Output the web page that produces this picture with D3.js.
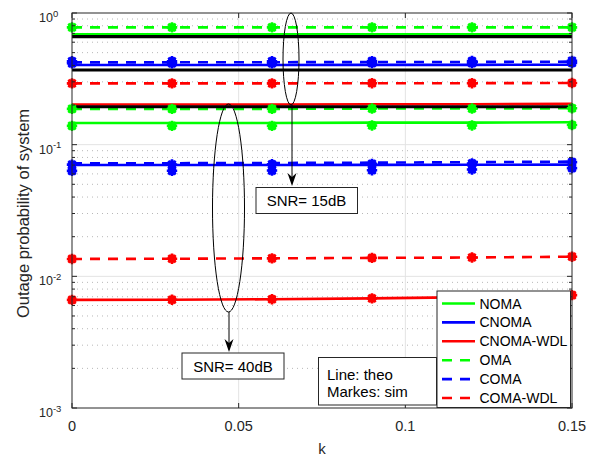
<!DOCTYPE html>
<html>
<head>
<meta charset="utf-8">
<script src="https://cdn.jsdelivr.net/npm/d3@7"></script>
<style>
  html, body { margin: 0; padding: 0; background: #fff; }
  svg { display: block; font-family: "Liberation Sans", Arial, Helvetica, sans-serif; }
</style>
</head>
<body>
<svg id="chart" width="599" height="457"></svg>
<script>
// ---------------- data ----------------
const kValues = [0, 0.03, 0.06, 0.09, 0.12, 0.15];
const xTicks = [0, 0.05, 0.1, 0.15];
const xTickLabels = ["0", "0.05", "0.1", "0.15"];
const yTicks = [1e-3, 1e-2, 1e-1, 1];
const yTickExponents = ["-3", "-2", "-1", "0"];
const seriesNames = ["NOMA", "CNOMA", "CNOMA-WDL", "OMA", "COMA", "COMA-WDL"];
const seriesColors = ["#00ff00", "#0000ff", "#ff0000", "#00ff00", "#0000ff", "#ff0000"];
const seriesDashed = [false, false, false, true, true, true];

// theory, SNR = 15 dB
const noma15 = [0.689, 0.689, 0.689, 0.689, 0.690, 0.690];
const cnoma15 = [0.403, 0.403, 0.403, 0.404, 0.404, 0.405];
const cnomaWdl15 = [0.202, 0.202, 0.202, 0.203, 0.203, 0.204];
const oma15 = [0.778, 0.778, 0.778, 0.778, 0.778, 0.778];
const coma15 = [0.422, 0.422, 0.423, 0.424, 0.425, 0.427];
const comaWdl15 = [0.292, 0.292, 0.292, 0.293, 0.293, 0.294];
// theory, SNR = 40 dB
const noma40 = [0.146, 0.146, 0.146, 0.147, 0.147, 0.148];
const cnoma40 = [0.0700, 0.0700, 0.0701, 0.0702, 0.0703, 0.0705];
const cnomaWdl40 = [0.00662, 0.00664, 0.00670, 0.00680, 0.00695, 0.00720];
const oma40 = [0.187, 0.187, 0.187, 0.188, 0.188, 0.189];
const coma40 = [0.0722, 0.0723, 0.0726, 0.0730, 0.0736, 0.0743];
const comaWdl40 = [0.01355, 0.0136, 0.0137, 0.0138, 0.0139, 0.0141];

// simulation markers
const simCnoma15 = [0.415, 0.415, 0.415, 0.416, 0.416, 0.417];
const simOma15 = [0.778, 0.778, 0.778, 0.778, 0.778, 0.778];
const simComa15 = [0.430, 0.430, 0.430, 0.431, 0.432, 0.433];
const simComaWdl15 = [0.292, 0.292, 0.292, 0.293, 0.293, 0.294];
const simNoma40 = [0.139, 0.139, 0.139, 0.140, 0.140, 0.141];
const simCnoma40 = [0.0632, 0.0633, 0.0636, 0.0640, 0.0648, 0.0664];
const simCnomaWdl40 = [0.00662, 0.00664, 0.00670, 0.00680, 0.00695, 0.00720];
const simOma40 = [0.187, 0.187, 0.187, 0.188, 0.188, 0.189];
const simComa40 = [0.0705, 0.0706, 0.0710, 0.0715, 0.0720, 0.0737];
const simComaWdl40 = [0.01355, 0.0136, 0.0137, 0.0138, 0.0139, 0.0141];

// black reference levels
const blackLevels = [0.661, 0.369, 0.194];

// ---------------- layout ----------------
const svg = d3.select("#chart");
const L = 72, R = 572, T = 13, B = 408;
const x = d3.scaleLinear().domain([0, 0.15]).range([L, R]);
const y = d3.scaleLog().domain([1e-3, 1]).range([B, T]);
const axisColor = "#262626";

// grid
const gridG = svg.append("g");
const minorVals = [];
for (let e = -3; e < 0; e++) for (let m = 2; m <= 9; m++) minorVals.push(m * Math.pow(10, e));
gridG.selectAll(".minor").data(minorVals).join("line")
  .attr("x1", L).attr("x2", R).attr("y1", d => y(d)).attr("y2", d => y(d))
  .attr("stroke", "#b8b8b8").attr("stroke-width", 1).attr("stroke-dasharray", "1,4");
gridG.selectAll(".majorY").data(yTicks.filter(v => v > 1e-3 && v < 1)).join("line")
  .attr("x1", L).attr("x2", R).attr("y1", d => y(d)).attr("y2", d => y(d))
  .attr("stroke", "#e3e3e3").attr("stroke-width", 1);
gridG.selectAll(".majorX").data(xTicks.filter(v => v > 0 && v < 0.15)).join("line")
  .attr("y1", T).attr("y2", B).attr("x1", d => x(d)).attr("x2", d => x(d))
  .attr("stroke", "#e3e3e3").attr("stroke-width", 1);

// clip
svg.append("clipPath").attr("id", "clip").append("rect")
  .attr("x", L).attr("y", T).attr("width", R - L).attr("height", B - T);

const line = d3.line().x((d, i) => x(kValues[i])).y(d => y(d));
const plotG = svg.append("g").attr("clip-path", "url(#clip)");

const theory = [
  [noma15, 0], [cnoma15, 1], [cnomaWdl15, 2], [oma15, 3], [coma15, 4], [comaWdl15, 5],
  [noma40, 0], [cnoma40, 1], [cnomaWdl40, 2], [oma40, 3], [coma40, 4], [comaWdl40, 5]
];
theory.forEach(([vals, si]) => {
  plotG.append("path").attr("d", line(vals)).attr("fill", "none")
    .attr("stroke", seriesColors[si]).attr("stroke-width", 2.6)
    .attr("stroke-dasharray", seriesDashed[si] ? "10,8" : null);
});
blackLevels.forEach(v => {
  plotG.append("path").attr("d", line(kValues.map(() => v))).attr("fill", "none")
    .attr("stroke", "#000").attr("stroke-width", 3.2);
});

// markers
const sims = [
  [simCnoma15, 1], [simOma15, 3], [simComa15, 4], [simComaWdl15, 5],
  [simNoma40, 0], [simCnoma40, 1], [simCnomaWdl40, 2], [simOma40, 3], [simComa40, 4], [simComaWdl40, 5]
];
const starPath = (() => {
  const r = 5.2; let p = "";
  for (let a = 0; a < 4; a++) {
    const t = a * Math.PI / 4;
    p += `M${-r * Math.cos(t)},${-r * Math.sin(t)}L${r * Math.cos(t)},${r * Math.sin(t)}`;
  }
  return p;
})();
const markG = svg.append("g");
sims.forEach(([vals, si]) => {
  vals.forEach((v, i) => {
    const g = markG.append("g").attr("transform", `translate(${x(kValues[i])},${y(v)})`);
    g.append("circle").attr("r", 4.4).attr("fill", seriesColors[si]);
    g.append("path").attr("d", starPath).attr("stroke", seriesColors[si]).attr("stroke-width", 2.6).attr("fill", "none");
  });
});

// axes (ticks inward, box)
const axG = svg.append("g");
axG.append("rect").attr("x", L).attr("y", T).attr("width", R - L).attr("height", B - T)
  .attr("fill", "none").attr("stroke", axisColor).attr("stroke-width", 1);
const tickG = axG.append("g").attr("stroke", axisColor).attr("stroke-width", 1);
yTicks.forEach(v => {
  tickG.append("line").attr("x1", L).attr("x2", L + 5).attr("y1", y(v)).attr("y2", y(v));
  tickG.append("line").attr("x1", R).attr("x2", R - 5).attr("y1", y(v)).attr("y2", y(v));
});
minorVals.forEach(v => {
  tickG.append("line").attr("x1", L).attr("x2", L + 3).attr("y1", y(v)).attr("y2", y(v));
  tickG.append("line").attr("x1", R).attr("x2", R - 3).attr("y1", y(v)).attr("y2", y(v));
});
xTicks.forEach(v => {
  tickG.append("line").attr("x1", x(v)).attr("x2", x(v)).attr("y1", B).attr("y2", B - 5);
  tickG.append("line").attr("x1", x(v)).attr("x2", x(v)).attr("y1", T).attr("y2", T + 5);
});

// tick labels
xTicks.forEach((v, i) => {
  axG.append("text").attr("x", x(v)).attr("y", 431).attr("text-anchor", "middle")
    .attr("font-size", 14.5).attr("fill", axisColor).text(xTickLabels[i]);
});
yTicks.forEach((v, i) => {
  const t = axG.append("text").attr("x", 39).attr("y", y(v) + 9)
    .attr("font-size", 12.5).attr("fill", axisColor);
  t.append("tspan").text("10");
  t.append("tspan").attr("dy", -5.5).attr("font-size", 9.5).text(yTickExponents[i]);
});

// axis labels
svg.append("text").attr("x", (L + R) / 2).attr("y", 454).attr("text-anchor", "middle")
  .attr("font-size", 15).attr("fill", axisColor).text("k");
svg.append("text").attr("transform", `translate(29,${(T + B) / 2 + 3}) rotate(-90)`)
  .attr("text-anchor", "middle").attr("font-size", 16.5).attr("fill", axisColor)
  .text("Outage probability of system");

// annotations
const annG = svg.append("g");
function arrow(xp, y0, y1) {
  annG.append("line").attr("x1", xp).attr("x2", xp).attr("y1", y0).attr("y2", y1 - 6)
    .attr("stroke", "#000").attr("stroke-width", 1);
  annG.append("path")
    .attr("d", `M${xp},${y1}L${xp - 4.5},${y1 - 13}L${xp},${y1 - 9}L${xp + 4.5},${y1 - 13}Z`)
    .attr("fill", "#000");
}
function box(x0, y0, w, h) {
  annG.append("rect").attr("x", x0).attr("y", y0).attr("width", w).attr("height", h)
    .attr("fill", "#fff").attr("stroke", "#262626").attr("stroke-width", 1);
}
// SNR 15 dB
annG.append("ellipse").attr("cx", 291).attr("cy", 59).attr("rx", 8).attr("ry", 46)
  .attr("fill", "none").attr("stroke", "#000").attr("stroke-width", 1);
arrow(292, 105, 186);
box(256, 187.5, 101.5, 26);
annG.append("text").attr("x", 306.5).attr("y", 206).attr("text-anchor", "middle")
  .attr("font-size", 15).text("SNR= 15dB");
// SNR 40 dB
annG.append("ellipse").attr("cx", 228.5).attr("cy", 208).attr("rx", 16).attr("ry", 104)
  .attr("fill", "none").attr("stroke", "#000").attr("stroke-width", 1);
arrow(229, 312, 352);
box(182, 353, 102, 26);
annG.append("text").attr("x", 233).attr("y", 371.5).attr("text-anchor", "middle")
  .attr("font-size", 15).text("SNR= 40dB");
// Line / markers box
box(318.5, 357.5, 118, 47.5);
annG.append("text").attr("x", 327).attr("y", 379.5).attr("font-size", 15).text("Line: theo");
annG.append("text").attr("x", 327).attr("y", 397).attr("font-size", 15).text("Markes: sim");

// legend
const legG = svg.append("g");
legG.append("rect").attr("x", 437).attr("y", 291).attr("width", 133.5).attr("height", 116.5)
  .attr("fill", "#fff").attr("stroke", "#262626").attr("stroke-width", 1);
seriesNames.forEach((name, i) => {
  const cy = 303.5 + i * 18.9;
  legG.append("line").attr("x1", 442).attr("x2", 475).attr("y1", cy).attr("y2", cy)
    .attr("stroke", seriesColors[i]).attr("stroke-width", 2.6)
    .attr("stroke-dasharray", seriesDashed[i] ? "10,8" : null);
  legG.append("text").attr("x", 479.5).attr("y", cy + 5).attr("font-size", 14)
    .attr("fill", "#000").text(name);
});
</script>
</body>
</html>
